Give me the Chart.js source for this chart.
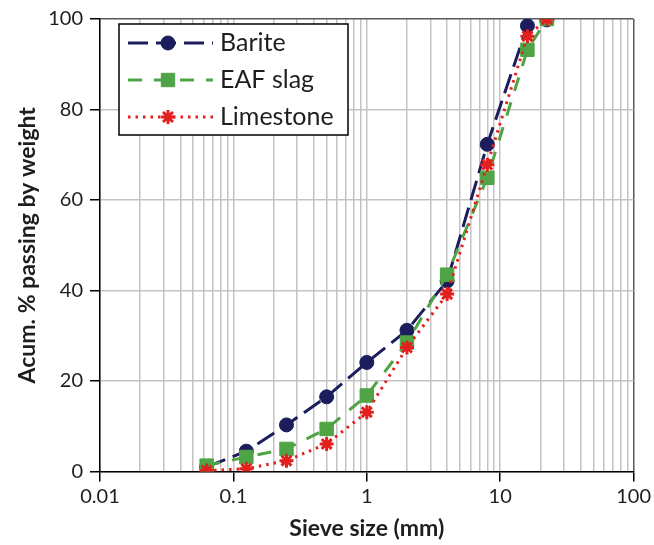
<!DOCTYPE html>
<html>
<head>
<meta charset="utf-8">
<script src="https://cdn.jsdelivr.net/npm/chart.js@4/dist/chart.umd.min.js"></script>
<style>
  html, body { margin: 0; padding: 0; background: #ffffff; }
  canvas { display: block; }
</style>
</head>
<body>
<canvas id="c" width="654" height="545"></canvas>
<script>
// ---- data ----
const sieveSizes = [0.063, 0.125, 0.25, 0.5, 1, 2, 4, 8, 16, 22.4];
const barite     = [1.0, 4.5, 10.3, 16.5, 24.1, 31.2, 42.1, 72.3, 98.5, 99.8];
const eafSlag    = [1.3, 3.2, 5.0, 9.4, 16.8, 28.5, 43.5, 64.9, 93.2, 100];
const limestone  = [0.2, 0.6, 2.4, 6.1, 13.1, 27.4, 39.2, 67.8, 96.2, 100];
const seriesNames = ['Barite', 'EAF slag', 'Limestone'];
const xDecadeTicks = [0.01, 0.1, 1, 10, 100];
const xTickLabels  = ['0.01', '0.1', '1', '10', '100'];
const yTicks = [0, 20, 40, 60, 80, 100];
const xTitle = 'Sieve size (mm)';
const yTitle = 'Acum. % passing by weight';

const NAVY = '#1b1d5c', GREEN = '#4fa445', RED = '#e2211f';
const GRID = '#c3c3c3', FRAME = '#595959';

Chart.defaults.font.family = 'Lato, "Open Sans", sans-serif';
Chart.defaults.color = '#1e1e1e';

function toPts(vals) { return sieveSizes.map((x, i) => ({ x: x, y: vals[i] })); }

const styles = [
  { color: NAVY, dash: [20, 8], width: 3, point: 'circle', radius: 7, pbw: 1 },
  { color: GREEN, dash: [14, 12], width: 3, point: 'rect', radius: 9.5, pbw: 1 },
  { color: RED, dash: [2.5, 5], width: 3, point: 'star', radius: 7, pbw: 3 }
];
const values = [barite, eafSlag, limestone];

const datasets = values.map((v, i) => ({
  label: seriesNames[i],
  data: toPts(v),
  borderColor: styles[i].color,
  backgroundColor: styles[i].color,
  borderWidth: styles[i].width,
  borderDash: styles[i].dash,
  pointStyle: styles[i].point,
  pointRadius: styles[i].radius,
  pointBorderWidth: styles[i].pbw,
  pointBackgroundColor: styles[i].color,
  pointBorderColor: styles[i].color,
  tension: 0,
  order: 3 - i
}));

const boxLegend = {
  id: 'boxLegend',
  afterDraw(chart) {
    const ctx = chart.ctx;
    const x0 = 119, y0 = 24, w = 229, h = 111;
    ctx.save();
    ctx.fillStyle = '#ffffff';
    ctx.fillRect(x0, y0, w, h);
    ctx.lineWidth = 1.5;
    ctx.strokeStyle = '#000000';
    ctx.strokeRect(x0, y0, w, h);
    const rows = [43, 80, 117];
    rows.forEach((ry, i) => {
      const s = styles[i];
      ctx.strokeStyle = s.color;
      ctx.fillStyle = s.color;
      ctx.lineWidth = s.width;
      ctx.setLineDash(s.dash);
      ctx.beginPath();
      ctx.moveTo(128, ry);
      ctx.lineTo(213, ry);
      ctx.stroke();
      ctx.setLineDash([]);
      ctx.lineWidth = s.pbw;
      Chart.helpers.drawPoint(ctx, { pointStyle: s.point, radius: s.radius, borderWidth: s.pbw, rotation: 0 }, 168, ry);
      ctx.fillStyle = '#1e1e1e';
      ctx.font = '25px Lato, "Open Sans", sans-serif';
      ctx.textAlign = 'left';
      ctx.textBaseline = 'middle';
      ctx.fillText(seriesNames[i], 220, ry);
    });
    ctx.restore();
  }
};

const isDecade = v => xDecadeTicks.some(d => Math.abs(v - d) / d < 1e-6);

new Chart(document.getElementById('c'), {
  type: 'line',
  data: { datasets: datasets },
  plugins: [boxLegend],
  options: {
    responsive: false,
    animation: false,
    layout: { padding: { left: 0, top: 17, right: 17, bottom: 0 } },
    plugins: { legend: { display: false }, tooltip: { enabled: false } },
    scales: {
      x: {
        type: 'logarithmic',
        min: 0.01,
        max: 100,
        afterBuildTicks(scale) {
          const t = [];
          for (let d = 0; d < xDecadeTicks.length - 1; d++) {
            for (let m = 1; m <= 9; m++) t.push({ value: +(xDecadeTicks[d] * m).toPrecision(6) });
          }
          t.push({ value: xDecadeTicks[xDecadeTicks.length - 1] });
          scale.ticks = t;
        },
        afterFit(scale) { scale.height = 73.5; },
        ticks: {
          autoSkip: false,
          maxRotation: 0,
          padding: 3,
          font: { size: 20 },
          callback(value) {
            const idx = xDecadeTicks.findIndex(d => Math.abs(value - d) / d < 1e-6);
            return idx >= 0 ? xTickLabels[idx] : '';
          }
        },
        grid: {
          color: ctx => (ctx.tick && Math.abs(ctx.tick.value - 100) < 1e-6) ? FRAME : GRID,
          lineWidth: 1.5,
          tickLength: 10,
          tickColor: ctx => (ctx.tick && isDecade(ctx.tick.value)) ? '#000000' : 'rgba(0,0,0,0)',
          tickWidth: 1.5
        },
        border: { display: true, color: '#000000', width: 1.5 },
        title: {
          display: true,
          text: xTitle,
          font: { size: 23, weight: 'bold' },
          padding: { top: 0, bottom: 3 }
        }
      },
      y: {
        type: 'linear',
        min: 0,
        max: 100,
        afterBuildTicks(scale) { scale.ticks = yTicks.map(v => ({ value: v })); },
        afterFit(scale) { scale.width = 100; },
        ticks: { padding: 7, font: { size: 20 } },
        grid: {
          color: ctx => (ctx.tick && ctx.tick.value === 100) ? FRAME : GRID,
          lineWidth: 1.5,
          tickLength: 10,
          tickColor: '#000000',
          tickWidth: 1.5
        },
        border: { display: true, color: '#000000', width: 1.5 },
        title: {
          display: true,
          text: yTitle,
          font: { size: 23, weight: 'bold' },
          padding: { top: 14, bottom: 0 }
        }
      }
    }
  }
});
</script>
</body>
</html>
